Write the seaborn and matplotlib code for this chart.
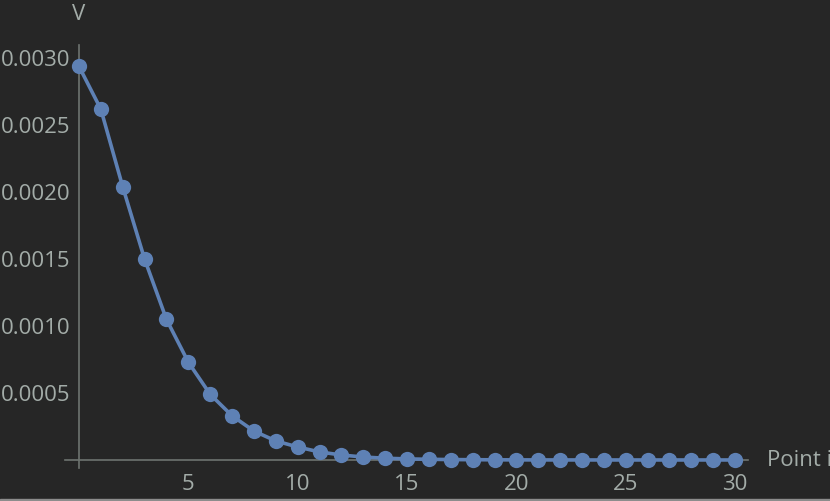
import numpy as np
import pandas as pd
import seaborn as sns
import matplotlib.pyplot as plt
from matplotlib.ticker import MultipleLocator, FixedLocator
from matplotlib.patches import Rectangle

# values
points = list(range(31))
v = [0.00294, 0.00262, 0.00204, 0.00150, 0.00105, 0.00073, 0.00049, 0.00033,
     0.000216, 0.000142, 0.000097, 0.000060, 0.000037, 0.000022, 0.000013,
     0.000008, 0.000005, 0.000003, 0.000002, 0.0000012, 0.0000007, 0.0000004,
     0.0000002, 0.0000001, 0.0000001, 0.0, 0.0, 0.0, 0.0, 0.0, 0.0]
x_ticks = [5, 10, 15, 20, 25, 30]
y_ticks = [0.0005, 0.0010, 0.0015, 0.0020, 0.0025, 0.0030]
y_labels = ["0.0005", "0.0010", "0.0015", "0.0020", "0.0025", "0.0030"]

df = pd.DataFrame({"Point i": points, "V": v})

bg = "#262626"
axis_col = "#6e7470"
text_col = "#a3aca8"
line_col = "#5e81b5"

sns.set_style("dark", {"axes.facecolor": bg, "figure.facecolor": bg})
plt.rcParams["font.family"] = ["Open Sans", "DejaVu Sans"]

fig = plt.figure(figsize=(8.3, 5.01), dpi=100)
ax = fig.add_axes([65 / 830, 33 / 501, 683 / 830, 423 / 501])

sns.lineplot(data=df, x="Point i", y="V", ax=ax, color=line_col, linewidth=2.6,
             marker="o", markersize=11, markeredgewidth=0, zorder=3)

ax.set_xlim(-0.64, 30.59)
ax.set_ylim(-0.00006, 0.0031)

for s in ["top", "right"]:
    ax.spines[s].set_visible(False)
ax.spines["left"].set_position(("data", 0))
ax.spines["bottom"].set_position(("data", 0))
for s in ["left", "bottom"]:
    ax.spines[s].set_color(axis_col)
    ax.spines[s].set_linewidth(1.2)

ax.xaxis.set_major_locator(FixedLocator(x_ticks))
ax.xaxis.set_minor_locator(MultipleLocator(1))
ax.yaxis.set_major_locator(FixedLocator(y_ticks))
ax.yaxis.set_minor_locator(MultipleLocator(0.0001))
ax.set_xticklabels([str(t) for t in x_ticks])
ax.set_yticklabels(y_labels)

ax.tick_params(which="both", direction="in", color=axis_col, labelcolor=text_col,
               labelsize=16)
ax.tick_params(axis="both", which="major", length=8, width=1.1)
ax.tick_params(axis="both", which="minor", length=5, width=1.0)
ax.tick_params(axis="x", which="major", pad=10)
ax.tick_params(axis="y", which="major", pad=6)

ax.set_xlabel("")
ax.set_ylabel("")
ax.grid(False)

fig.text(79 / 830, 1 - 15 / 501, "V", color=text_col, fontsize=16,
         ha="center", va="center")
fig.text(767 / 830, 1 - 460 / 501, "Point i", color=text_col, fontsize=16,
         ha="left", va="center")

# thin light edge along the bottom of the image
fig.patches.append(Rectangle((0, 0), 1, 2 / 501, transform=fig.transFigure,
                             color="#8c8c8c", zorder=0))

fig.savefig("out.png", dpi=100, facecolor=bg)
